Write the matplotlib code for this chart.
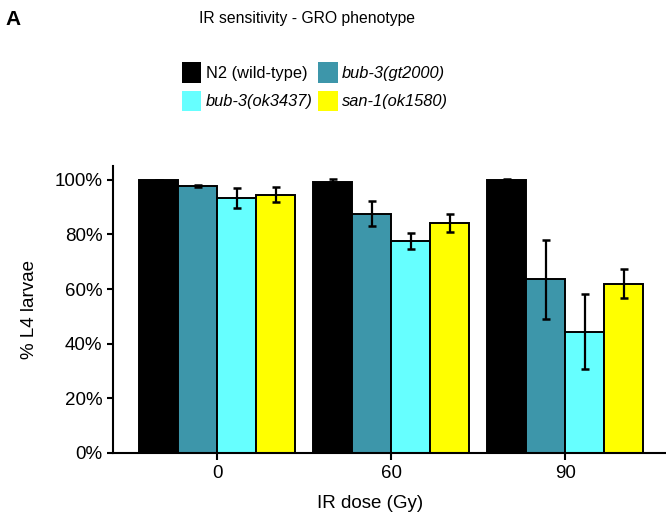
import numpy as np
import matplotlib
matplotlib.use("Agg")
import matplotlib.pyplot as plt

# ── Data ────────────────────────────────────────────────────────────
doses = ["0", "60", "90"]
strains = ["N2 (wild-type)", "bub-3(gt2000)", "bub-3(ok3437)", "san-1(ok1580)"]
italic = [False, True, True, True]

n2_mean = [100.0, 99.3, 100.0]
n2_err = [0.0, 1.1, 0.3]
gt2000_mean = [97.6, 87.6, 63.5]
gt2000_err = [0.3, 4.6, 14.5]
ok3437_mean = [93.3, 77.6, 44.4]
ok3437_err = [3.6, 2.8, 13.6]
ok1580_mean = [94.5, 84.2, 62.0]
ok1580_err = [2.8, 3.4, 5.3]

means = [n2_mean, gt2000_mean, ok3437_mean, ok1580_mean]
errs = [n2_err, gt2000_err, ok3437_err, ok1580_err]
COLORS = ["#000000", "#3d96aa", "#66ffff", "#ffff00"]

plt.rcParams.update({
    "font.family": ["Liberation Sans", "DejaVu Sans"],
    "axes.linewidth": 1.5,
})

fig = plt.figure(figsize=(6.66, 5.17), dpi=100)
ax = fig.add_axes([0.1697, 0.1238, 0.8303, 0.555])

x = np.arange(len(doses))
w = 0.224
handles = []
for i, (m, e, c) in enumerate(zip(means, errs, COLORS)):
    pos = x + (i - 1.5) * w
    b = ax.bar(pos, m, width=w, color=c, edgecolor="black", linewidth=1.4,
               zorder=2)
    ax.errorbar(pos, m, yerr=e, fmt="none", ecolor="black", elinewidth=1.6,
                capsize=3.2, capthick=1.8, zorder=3)
    handles.append(b)

ax.set_xlim(-0.598, 2.58)
ax.set_ylim(0, 105)
ax.set_yticks([0, 20, 40, 60, 80, 100])
ax.set_yticklabels([f"{v}%" for v in [0, 20, 40, 60, 80, 100]])
ax.set_xticks(x)
ax.set_xticklabels(doses)
ax.tick_params(axis="both", labelsize=13.5, width=1.5, length=4.5, pad=3)
ax.tick_params(axis="x", length=5, pad=4)

for s in ["top", "right"]:
    ax.spines[s].set_visible(False)

ax.set_ylabel("% L4 larvae", fontsize=13.5)
ax.yaxis.set_label_coords(-0.136, 0.5)
ax.set_xlabel("IR dose (Gy)", fontsize=13.5)
ax.xaxis.set_label_coords(0.465, -0.148)

fig.text(0.461, 0.965, "IR sensitivity - GRO phenotype", ha="center",
         va="center", fontsize=11.3)
fig.text(0.008, 0.963, "A", ha="left", va="center", fontsize=15,
         fontweight="bold")

# legend fills column-first, so reorder to get two rows
order = [0, 2, 1, 3]
leg = fig.legend([handles[i] for i in order], [strains[i] for i in order],
                 ncol=2, loc="upper left", bbox_to_anchor=(0.273, 0.88),
                 frameon=False, fontsize=11.8, borderpad=0, borderaxespad=0,
                 handlelength=1.2, handleheight=1.55, handletextpad=0.25,
                 columnspacing=0.35, labelspacing=0.5)
for t, h in zip(leg.get_texts(), order):
    if italic[h]:
        t.set_style("italic")
for p in leg.legend_handles:
    p.set_linewidth(0)

fig.savefig("out.png", dpi=100)
